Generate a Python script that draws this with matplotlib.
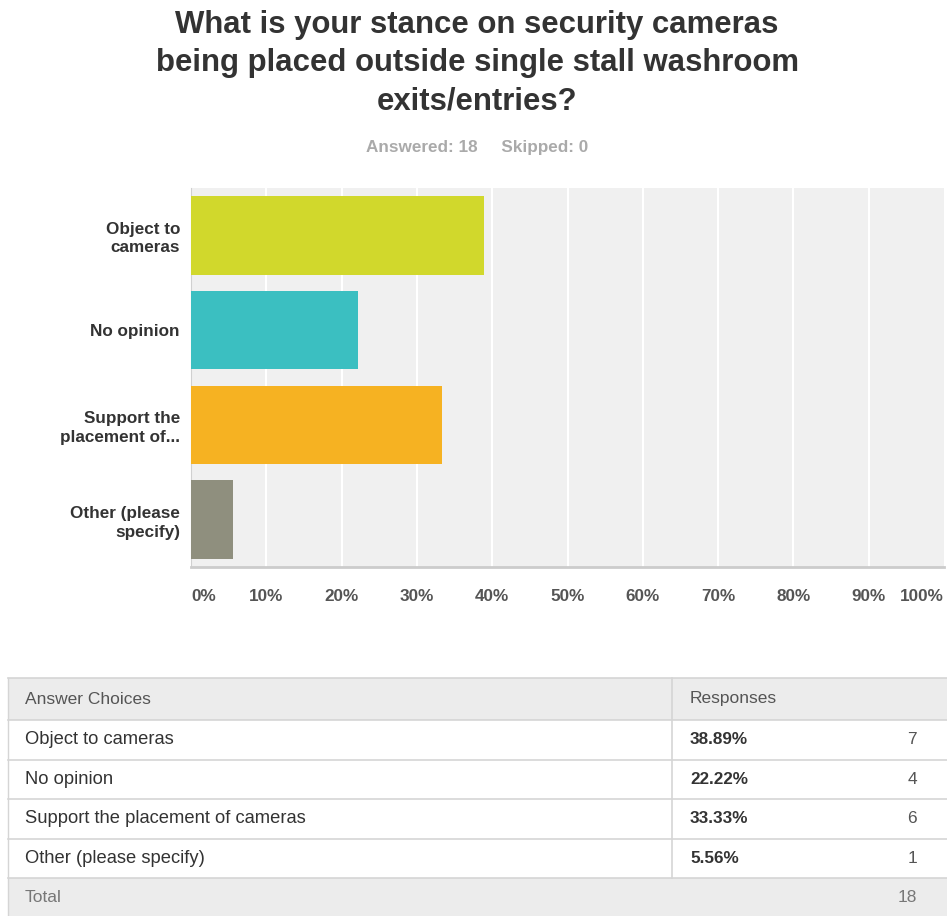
import matplotlib.pyplot as plt

# данные опроса
categories = ["Object to\ncameras", "No opinion", "Support the\nplacement of...", "Other (please\nspecify)"]
full_names = ["Object to cameras", "No opinion", "Support the placement of cameras", "Other (please specify)"]
percents = [38.89, 22.22, 33.33, 5.56]
counts = [7, 4, 6, 1]
total = 18
skipped = 0
bar_colors = ["#d1d82c", "#3bbfc1", "#f6b222", "#8f8f7e"]
x_ticks = list(range(0, 101, 10))

W, H = 947, 916
plt.rcParams['font.family'] = ['Liberation Sans', 'DejaVu Sans']
fig = plt.figure(figsize=(W / 100, H / 100), dpi=100)
fig.patch.set_facecolor("white")


def fx(px):
    return px / W


def fy(py):
    return 1 - py / H


# заголовок
fig.text(fx(477), fy(10), "What is your stance on security cameras\nbeing placed outside single stall washroom\nexits/entries?",
         ha="center", va="top", fontsize=22.4, fontweight="bold", color="#333333", linespacing=1.36)
fig.text(fx(477), fy(147), f"Answered: {total}     Skipped: {skipped}",
         ha="center", va="center", fontsize=12.3, fontweight="bold", color="#aaaaaa")

# график
ax = fig.add_axes([fx(191), fy(567), fx(944) - fx(191), fy(188) - fy(567)])
ax.set_facecolor("#f0f0f0")
y = list(range(len(categories)))
ax.barh(y, percents, height=0.83, color=bar_colors, zorder=3)
ax.set_xlim(0, 100)
ax.set_ylim(3.5, -0.5)
for t in x_ticks[1:-1]:
    ax.axvline(t, color="white", lw=1.5, zorder=1)
for s in ["top", "right"]:
    ax.spines[s].set_visible(False)
ax.spines["left"].set_color("#d0d0d0")
ax.spines["bottom"].set_color("#cccccc")
ax.spines["bottom"].set_linewidth(2)
ax.set_yticks(y)
ax.set_yticklabels(categories, fontsize=12.3, fontweight="bold", color="#333333", linespacing=1.3)
ax.tick_params(axis="y", length=0, pad=8)
ax.set_xticks(x_ticks)
ax.set_xticklabels([f"{t}%" for t in x_ticks], fontsize=12.3, fontweight="bold", color="#555555")
ax.tick_params(axis="x", length=0, pad=16)
labels = ax.get_xticklabels()
labels[0].set_ha("left")
labels[-1].set_ha("right")

# таблица
tab = fig.add_axes([0, 0, 1, 1], facecolor="none")
tab.set_xlim(0, W)
tab.set_ylim(H, 0)
tab.axis("off")
fs = 13.2
fs_head = 12.5
row_top = 678
row_h = [42] + [39.5] * len(full_names) + [39]
edges = [row_top]
for h in row_h:
    edges.append(edges[-1] + h)
# фоны шапки и итога
tab.fill_between([8, W], edges[0], edges[1], color="#ececec", lw=0)
tab.fill_between([8, W], edges[-2], edges[-1], color="#ececec", lw=0)
for e in edges[:-1]:
    tab.plot([8, W], [e, e], color="#d5d5d5", lw=1.2)
tab.plot([672, 672], [edges[0], edges[-2]], color="#d5d5d5", lw=1.2)
tab.plot([8, 8], [edges[0], edges[-1]], color="#d5d5d5", lw=1)

mid = lambda i: (edges[i] + edges[i + 1]) / 2
tab.text(25, mid(0), "Answer Choices", ha="left", va="center", fontsize=fs_head, color="#555555")
tab.text(690, mid(0), "Responses", ha="left", va="center", fontsize=fs_head, color="#555555")
for i, (name, p, c) in enumerate(zip(full_names, percents, counts)):
    ym = mid(i + 1)
    tab.text(25, ym, name, ha="left", va="center", fontsize=fs, color="#333333")
    tab.text(690, ym, f"{p:.2f}%", ha="left", va="center", fontsize=12.3, fontweight="bold", color="#333333")
    tab.text(917, ym, str(c), ha="right", va="center", fontsize=fs_head, color="#555555")
tab.text(25, mid(len(row_h) - 1), "Total", ha="left", va="center", fontsize=fs_head, color="#777777")
tab.text(917, mid(len(row_h) - 1), str(total), ha="right", va="center", fontsize=fs_head, color="#777777")

fig.savefig("out.png", dpi=100)
